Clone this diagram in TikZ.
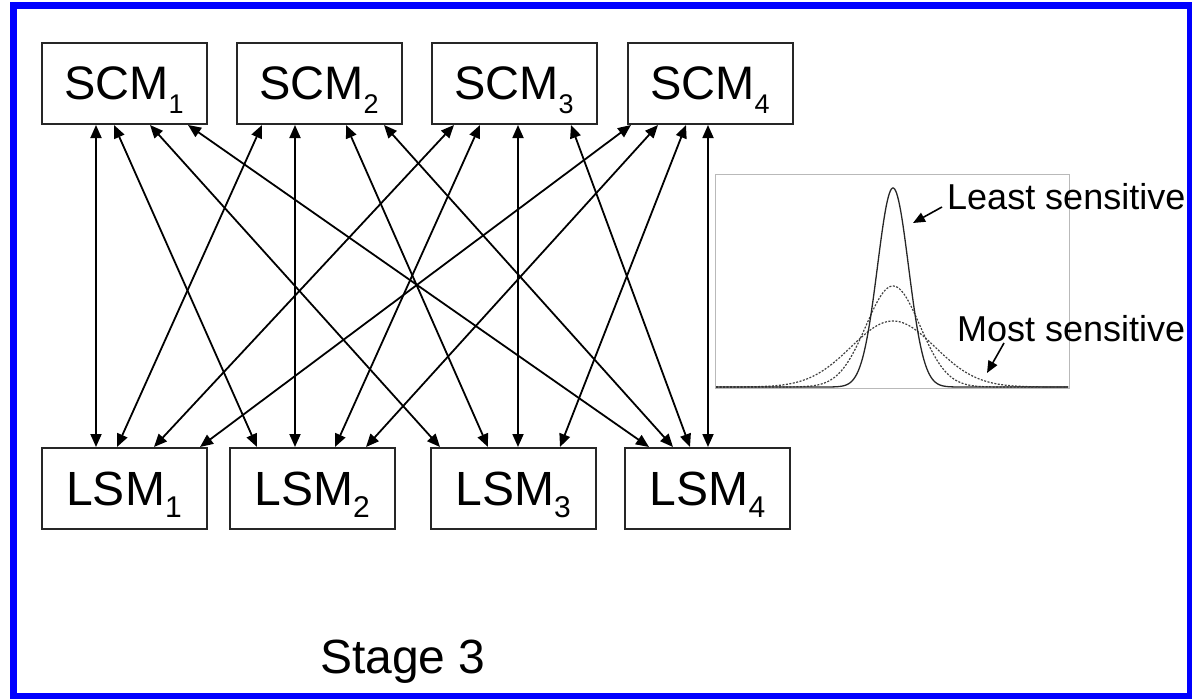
\documentclass[tikz,border=0pt]{standalone}
\usepackage{fontspec}
\setmainfont{Liberation Sans}
\usetikzlibrary{arrows.meta}

\definecolor{framblue}{RGB}{0,0,255}

% model labels with a hand-set subscript (smashed so the box centres on the capitals)
\newcommand{\scmlabel}[1]{SCM\smash{\raisebox{-14pt}{\fontsize{27}{27}\selectfont #1}}}
\newcommand{\lsmlabel}[1]{LSM\smash{\raisebox{-12pt}{\fontsize{30}{30}\selectfont #1}}}

\tikzset{
  modelbox/.style={draw=black!85, line width=2pt, rectangle, inner sep=0pt,
    minimum width=165pt, minimum height=81pt},
  scmbox/.style={modelbox, font=\fontsize{47}{50}\selectfont},
  lsmbox/.style={modelbox, font=\fontsize{48}{50}\selectfont},
  link/.style={{Triangle[length=13pt,width=11pt]}-{Triangle[length=13pt,width=11pt]},
    line width=1.8pt, black},
  pointer/.style={-{Triangle[length=12pt,width=10pt]}, line width=1.6pt, black},
  curvelabel/.style={anchor=base west, inner sep=0pt, font=\fontsize{36}{40}\selectfont},
  widecurve/.style={line width=1.2pt, black!75, dash pattern=on 2pt off 1.5pt},
}

\begin{document}
\begin{tikzpicture}[x=1pt, y=-1pt]
\useasboundingbox (0,0) rectangle (1192,699);

% upper row of models
\node[scmbox] (s1) at (124,83.5) {\scmlabel{1}};
\node[scmbox] (s2) at (319,83.5) {\scmlabel{2}};
\node[scmbox] (s3) at (514,83.5) {\scmlabel{3}};
\node[scmbox] (s4) at (710,83.5) {\scmlabel{4}};

% lower row of models
\node[lsmbox] (l1) at (124,488.5) {\lsmlabel{1}};
\node[lsmbox] (l2) at (312,488.5) {\lsmlabel{2}};
\node[lsmbox] (l3) at (513,488.5) {\lsmlabel{3}};
\node[lsmbox] (l4) at (707.5,488.5) {\lsmlabel{4}};

% every SCM linked with every LSM
\foreach \s/\a/\l/\b in {
  1/-28/1/-28, 1/-10/2/-55, 1/26/3/-73, 1/64/4/-58.5,
  2/-57/1/-7,  2/-24/2/-17, 2/27/3/-25, 2/65/4/-34.5,
  3/-60/1/30,  3/-34/2/23,  3/4/3/5,    3/57/4/-17.5,
  4/-79/1/76,  4/-52/2/54,  4/-24/3/47, 4/-2/4/0.5}
  \draw[link] ([xshift=\a pt]s\s.south) -- ([xshift=\b pt]l\l.north);

% sensitivity inset: three equal-area bell curves
\draw[gray!55, line width=1pt] (715,174) rectangle (1069,388);
\draw[widecurve] (716,387) -- (725,387) -- plot[domain=725:1061, samples=140]
  (\x,{387-66*exp(-0.5*((\x-893)/42)^2)}) -- (1068,387);
\draw[widecurve] (716,387) -- (785,387) -- plot[domain=785:1001, samples=120]
  (\x,{387-101*exp(-0.5*((\x-893)/27)^2)}) -- (1068,387);
\draw[line width=1.3pt, black!85] (716,387) -- (831,387) -- plot[domain=831:955, samples=120]
  (\x,{387-199*exp(-0.5*((\x-893)/15.5)^2)}) -- (1068,387);

\node[curvelabel] (least) at (947,209) {Least sensitive};
\node[curvelabel] (most) at (957,341) {Most sensitive};
\coordinate (leasttip) at (913,223);
\coordinate (mosttip) at (987,373);
\draw[pointer] ([shift={(-5,-2)}]least.base west) -- (leasttip);
\draw[pointer] ([shift={(47,2)}]most.base west) -- (mosttip);

\node[anchor=base west, inner sep=0pt, font=\fontsize{48}{50}\selectfont] (stage) at (320,673) {Stage 3};

% outer frame
\draw[framblue, line width=7pt] (13.5,5) rectangle (1190.5,696.5);
\end{tikzpicture}
\end{document}
